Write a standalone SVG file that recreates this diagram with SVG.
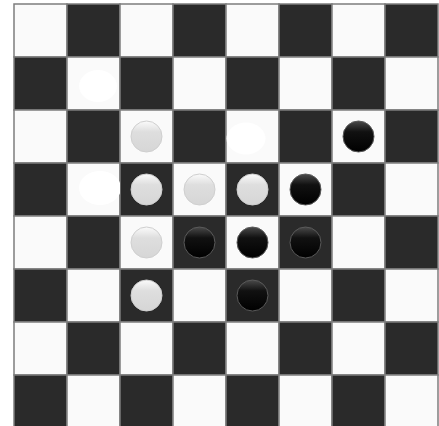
<svg xmlns="http://www.w3.org/2000/svg" width="439" height="426" viewBox="0 0 439 426">
<style>
.l{fill:#fafafa;stroke:#7d7d7d;stroke-width:1.5}
.d{fill:#2a2a2a;stroke:#7d7d7d;stroke-width:1.5}
.w{fill:url(#wg);stroke:#cfcfcf;stroke-width:1}
.b{fill:url(#bg);stroke:#5a5a5a;stroke-width:1}
.h{fill:#ffffff}
</style>
<defs>
<linearGradient id="wg" x1="0" y1="0" x2="0" y2="1">
<stop offset="0" stop-color="#fbfbfb"/>
<stop offset="0.35" stop-color="#dedede"/>
<stop offset="1" stop-color="#d6d6d6"/>
</linearGradient>
<linearGradient id="bg" x1="0" y1="0" x2="0" y2="1">
<stop offset="0" stop-color="#4a4a4a"/>
<stop offset="0.35" stop-color="#111"/>
<stop offset="1" stop-color="#000"/>
</linearGradient>
<clipPath id="c11"><rect x="67" y="57" width="53" height="53"/></clipPath>
<clipPath id="c24"><rect x="226" y="110" width="53" height="53"/></clipPath>
<clipPath id="c31"><rect x="67" y="163" width="53" height="53"/></clipPath>
</defs>
<g id="board">
<rect class="l" x="14" y="4" width="53" height="53"/><rect class="d" x="67" y="4" width="53" height="53"/><rect class="l" x="120" y="4" width="53" height="53"/><rect class="d" x="173" y="4" width="53" height="53"/><rect class="l" x="226" y="4" width="53" height="53"/><rect class="d" x="279" y="4" width="53" height="53"/><rect class="l" x="332" y="4" width="53" height="53"/><rect class="d" x="385" y="4" width="53" height="53"/>
<rect class="d" x="14" y="57" width="53" height="53"/><rect class="l" x="67" y="57" width="53" height="53"/><rect class="d" x="120" y="57" width="53" height="53"/><rect class="l" x="173" y="57" width="53" height="53"/><rect class="d" x="226" y="57" width="53" height="53"/><rect class="l" x="279" y="57" width="53" height="53"/><rect class="d" x="332" y="57" width="53" height="53"/><rect class="l" x="385" y="57" width="53" height="53"/>
<rect class="l" x="14" y="110" width="53" height="53"/><rect class="d" x="67" y="110" width="53" height="53"/><rect class="l" x="120" y="110" width="53" height="53"/><rect class="d" x="173" y="110" width="53" height="53"/><rect class="l" x="226" y="110" width="53" height="53"/><rect class="d" x="279" y="110" width="53" height="53"/><rect class="l" x="332" y="110" width="53" height="53"/><rect class="d" x="385" y="110" width="53" height="53"/>
<rect class="d" x="14" y="163" width="53" height="53"/><rect class="l" x="67" y="163" width="53" height="53"/><rect class="d" x="120" y="163" width="53" height="53"/><rect class="l" x="173" y="163" width="53" height="53"/><rect class="d" x="226" y="163" width="53" height="53"/><rect class="l" x="279" y="163" width="53" height="53"/><rect class="d" x="332" y="163" width="53" height="53"/><rect class="l" x="385" y="163" width="53" height="53"/>
<rect class="l" x="14" y="216" width="53" height="53"/><rect class="d" x="67" y="216" width="53" height="53"/><rect class="l" x="120" y="216" width="53" height="53"/><rect class="d" x="173" y="216" width="53" height="53"/><rect class="l" x="226" y="216" width="53" height="53"/><rect class="d" x="279" y="216" width="53" height="53"/><rect class="l" x="332" y="216" width="53" height="53"/><rect class="d" x="385" y="216" width="53" height="53"/>
<rect class="d" x="14" y="269" width="53" height="53"/><rect class="l" x="67" y="269" width="53" height="53"/><rect class="d" x="120" y="269" width="53" height="53"/><rect class="l" x="173" y="269" width="53" height="53"/><rect class="d" x="226" y="269" width="53" height="53"/><rect class="l" x="279" y="269" width="53" height="53"/><rect class="d" x="332" y="269" width="53" height="53"/><rect class="l" x="385" y="269" width="53" height="53"/>
<rect class="l" x="14" y="322" width="53" height="53"/><rect class="d" x="67" y="322" width="53" height="53"/><rect class="l" x="120" y="322" width="53" height="53"/><rect class="d" x="173" y="322" width="53" height="53"/><rect class="l" x="226" y="322" width="53" height="53"/><rect class="d" x="279" y="322" width="53" height="53"/><rect class="l" x="332" y="322" width="53" height="53"/><rect class="d" x="385" y="322" width="53" height="53"/>
<rect class="d" x="14" y="375" width="53" height="53"/><rect class="l" x="67" y="375" width="53" height="53"/><rect class="d" x="120" y="375" width="53" height="53"/><rect class="l" x="173" y="375" width="53" height="53"/><rect class="d" x="226" y="375" width="53" height="53"/><rect class="l" x="279" y="375" width="53" height="53"/><rect class="d" x="332" y="375" width="53" height="53"/><rect class="l" x="385" y="375" width="53" height="53"/>
</g>
<g id="hints">
<ellipse class="h" cx="98" cy="86" rx="19" ry="16" clip-path="url(#c11)"/>
<ellipse class="h" cx="246" cy="138.5" rx="19.5" ry="16" clip-path="url(#c24)"/>
<ellipse class="h" cx="100" cy="188" rx="21" ry="17" clip-path="url(#c31)"/>
</g>
<g id="pieces">
<circle class="w" cx="146.5" cy="136.5" r="15.5"/>
<circle class="b" cx="358.5" cy="136.5" r="15.5"/>
<circle class="w" cx="146.5" cy="189.5" r="15.5"/>
<circle class="w" cx="199.5" cy="189.5" r="15.5"/>
<circle class="w" cx="252.5" cy="189.5" r="15.5"/>
<circle class="b" cx="305.5" cy="189.5" r="15.5"/>
<circle class="w" cx="146.5" cy="242.5" r="15.5"/>
<circle class="b" cx="199.5" cy="242.5" r="15.5"/>
<circle class="b" cx="252.5" cy="242.5" r="15.5"/>
<circle class="b" cx="305.5" cy="242.5" r="15.5"/>
<circle class="w" cx="146.5" cy="295.5" r="15.5"/>
<circle class="b" cx="252.5" cy="295.5" r="15.5"/>
</g>
</svg>
